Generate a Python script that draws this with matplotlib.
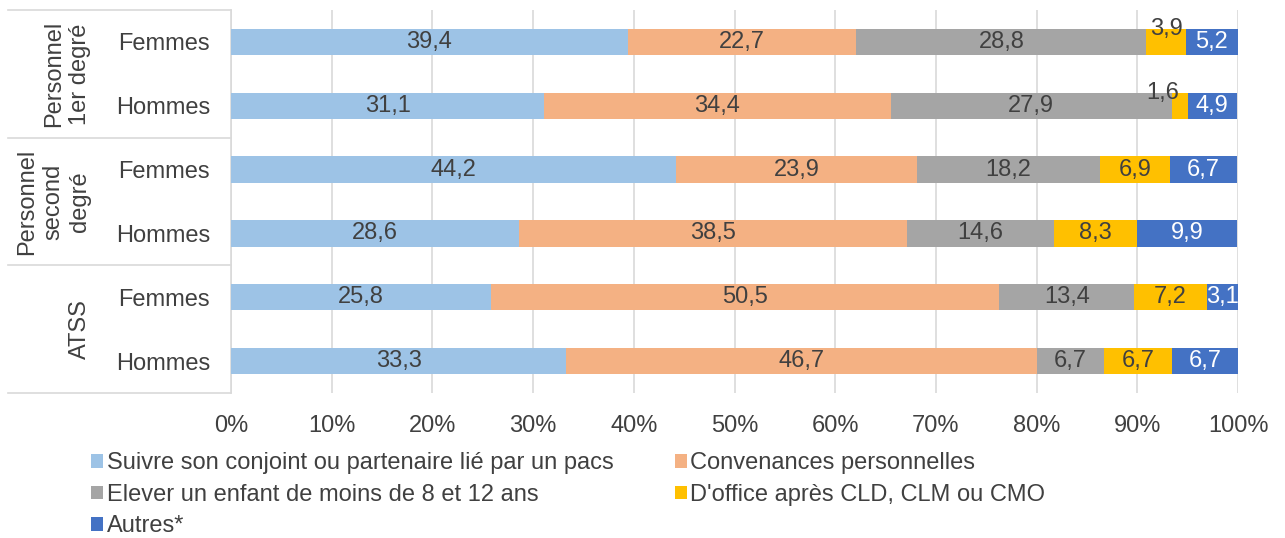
import matplotlib.pyplot as plt
import numpy as np

# data
groups = ["Personnel\n1er degré", "Personnel\nsecond\ndegré", "ATSS"]
rows = ["Femmes", "Hommes", "Femmes", "Hommes", "Femmes", "Hommes"]
series = [
    "Suivre son conjoint ou partenaire lié par un pacs",
    "Convenances personnelles",
    "Elever un enfant de moins de 8 et 12 ans",
    "D'office après CLD, CLM ou CMO",
    "Autres*",
]
suivre = [39.4, 31.1, 44.2, 28.6, 25.8, 33.3]
convenances = [22.7, 34.4, 23.9, 38.5, 50.5, 46.7]
elever = [28.8, 27.9, 18.2, 14.6, 13.4, 6.7]
doffice = [3.9, 1.6, 6.9, 8.3, 7.2, 6.7]
autres = [5.2, 4.9, 6.7, 9.9, 3.1, 6.7]

colors = ["#9DC3E6", "#F4B183", "#A5A5A5", "#FFC000", "#4472C4"]
label_colors = ["#404040", "#404040", "#404040", "#404040", "white"]

plt.rcParams['font.family'] = ['Liberation Sans', 'DejaVu Sans']
FS = 17

fig = plt.figure(figsize=(12.85, 5.38), dpi=100)
ax = fig.add_axes([231 / 1285, 1 - 393 / 538, 1007 / 1285, 383 / 538])

y = np.arange(len(rows))
left = np.zeros(len(rows))
handles = []
for name, vals, col, lc in zip(series, [suivre, convenances, elever, doffice, autres], colors, label_colors):
    vals = np.array(vals)
    b = ax.barh(y, vals, left=left, height=0.41, color=col, label=name, zorder=3)
    handles.append(b)
    for i, v in enumerate(vals):
        txt = f"{v:.1f}".replace(".", ",")
        cx = left[i] + v / 2
        if v < 3:
            # too small: label sits above the bar
            ax.text(left[i] - 0.9, y[i] - 0.2, txt, ha='center', va='center', fontsize=FS, color="#404040", zorder=4)
        elif v < 5 and col == "#FFC000":
            ax.text(cx, y[i] - 0.2, txt, ha='center', va='center', fontsize=FS, color="#404040", zorder=4)
        else:
            ax.text(cx, y[i], txt, ha='center', va='center', fontsize=FS, color=lc, zorder=4)
    left += vals

ax.set_xlim(0, 100)
ax.set_ylim(5.5, -0.5)
ax.set_xticks(np.arange(0, 101, 10))
ax.set_xticklabels([f"{t}%" for t in range(0, 101, 10)])
ax.set_yticks(y)
ax.set_yticklabels(rows)
ax.tick_params(axis='both', length=0, labelsize=FS, labelcolor="#404040")
ax.tick_params(axis='y', pad=15)
ax.tick_params(axis='x', pad=16)
ax.grid(axis='x', color="#D9D9D9", linewidth=1.2, zorder=0)
for s in ["top", "right", "bottom"]:
    ax.spines[s].set_visible(False)
ax.spines["left"].set_color("#D9D9D9")
ax.spines["left"].set_linewidth(1.2)

# group separators and labels on the left
trans = ax.get_yaxis_transform()
x0 = (8 - 231) / 1007
for yy in [-0.5, 1.5, 3.5, 5.5]:
    ax.plot([x0, 0], [yy, yy], color="#D9D9D9", linewidth=1.2, transform=trans, clip_on=False)
for k, g in enumerate(groups):
    ax.text((91 - 231) / 1007, 2 * k + 0.5, g, rotation=90, ha='right', va='center',
            multialignment='center', fontsize=FS, color="#404040", transform=trans,
            linespacing=1.25)

order = [0, 2, 4, 1, 3]
leg = fig.legend([handles[i] for i in order], [series[i] for i in order], ncol=2,
                 loc='lower left', bbox_to_anchor=(70 / 1285, -0.038), frameon=False,
                 fontsize=FS, handlelength=0.5, handleheight=0.5, handletextpad=0.15,
                 columnspacing=2.6, labelspacing=0.4, labelcolor="#404040")

fig.savefig("out.png", dpi=100)
